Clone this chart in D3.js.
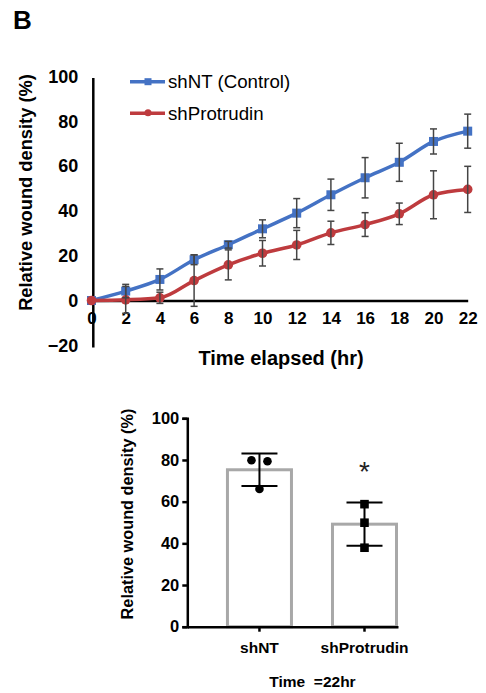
<!DOCTYPE html>
<html><head><meta charset="utf-8">
<script src="https://cdn.jsdelivr.net/npm/d3@7"></script>
<style>
html,body{margin:0;padding:0;background:#fff;}
svg{display:block;font-family:Arial,"Liberation Sans",Helvetica,sans-serif;}
</style></head>
<body>
<svg id="c" width="486" height="693"></svg>
<script>
// ---- Data (top line chart) ----
const times = [0, 2, 4, 6, 8, 10, 12, 14, 16, 18, 20, 22];
const shNT = [0, 4.2, 9.4, 18.2, 24.9, 32, 39, 47.2, 54.8, 61.7, 71, 75.6];
const shNTErr = [0, 3, 4.7, 2.2, 1.5, 4, 6.5, 7, 9, 8.5, 5.6, 7.6];
const shProtrudin = [0, 0.3, 1.2, 8.9, 15.9, 21.1, 24.8, 30.2, 33.9, 38.7, 47.2, 49.6];
const shProtrudinErr = [0, 6, 2.5, 11.5, 6.7, 5.7, 6.5, 5.2, 5.3, 4.8, 10.7, 10.3];
const yTicksTop = [-20, 0, 20, 40, 60, 80, 100];
const seriesNames = ["shNT (Control)", "shProtrudin"];

// ---- Data (bottom bar chart) ----
const barCats = ["shNT", "shProtrudin"];
const barMeans = [75.3, 49.2];
const barSD = [7.8, 10.4];
const shNTPoints = [79.9, 79.4, 66.1];
const shProtrudinPoints = [58.8, 49.9, 37.9];
const yTicksBottom = [0, 20, 40, 60, 80, 100];

const svg = d3.select("#c");
const BLUE = "#4472C4", RED = "#BE3B3E", ERR = "#454545";
const FONT = "Arial, 'Liberation Sans', sans-serif";

// Panel label
svg.append("text").attr("x", 13).attr("y", 29).attr("font-size", 26).attr("font-weight", "bold").text("B");

// ================= TOP CHART =================
const x = d3.scaleLinear().domain([0, 22]).range([91.5, 467.7]);
const y = d3.scaleLinear().domain([-20, 100]).range([345.3, 76.5]);

// x axis
const gx = svg.append("g").attr("transform", `translate(0,${y(0)})`)
  .call(d3.axisBottom(x).tickValues(times).tickSize(0).tickPadding(11).tickFormat(d3.format("d")));
gx.select(".domain").attr("stroke", "#000").attr("stroke-width", 2.5);
gx.selectAll("text").attr("font-size", 17).attr("font-weight", "bold").attr("fill", "#000").attr("font-family", FONT);

// y axis
const gy = svg.append("g").attr("transform", `translate(93.3,0)`)
  .call(d3.axisLeft(y).tickValues(yTicksTop).tickSize(0).tickPadding(15));
gy.select(".domain").attr("stroke", "#000").attr("stroke-width", 2.5)
  .attr("d", `M0,${y(-21)}V${y(99.3)}`);
gy.selectAll("text").attr("font-size", 18).attr("font-weight", "bold").attr("fill", "#000").attr("font-family", FONT);

// axis titles
svg.append("text").attr("transform", `translate(31.5,192.5) rotate(-90)`).attr("text-anchor", "middle")
  .attr("font-size", 18.3).attr("font-weight", "bold").text("Relative wound density (%)");
svg.append("text").attr("x", 281).attr("y", 365).attr("text-anchor", "middle")
  .attr("font-size", 20).attr("font-weight", "bold").text("Time elapsed (hr)");

const line = d3.line().x((d, i) => x(times[i])).y(d => y(d)).curve(d3.curveMonotoneX);
const series = [
  {vals: shNT, err: shNTErr, color: BLUE, marker: "square"},
  {vals: shProtrudin, err: shProtrudinErr, color: RED, marker: "circle"}
];

series.forEach(s => {
  svg.append("path").datum(s.vals).attr("d", line).attr("fill", "none")
    .attr("stroke", s.color).attr("stroke-width", 3.5).attr("stroke-linejoin", "round");
});
series.forEach(s => {
  const g = svg.append("g");
  s.vals.forEach((v, i) => {
    const cx = x(times[i]), cy = y(v);
    if (s.marker === "square") {
      g.append("rect").attr("x", cx - 4.5).attr("y", cy - 4.5).attr("width", 9).attr("height", 9).attr("fill", s.color);
    } else {
      g.append("circle").attr("cx", cx).attr("cy", cy).attr("r", 4.8).attr("fill", s.color);
    }
  });
});
// error bars
series.forEach(s => {
  const g = svg.append("g").attr("stroke", ERR).attr("stroke-width", 1.5);
  s.vals.forEach((v, i) => {
    const e = s.err[i];
    if (!e) return;
    const cx = x(times[i]);
    g.append("line").attr("x1", cx).attr("x2", cx).attr("y1", y(v + e)).attr("y2", y(v - e));
    g.append("line").attr("x1", cx - 3.5).attr("x2", cx + 3.5).attr("y1", y(v + e)).attr("y2", y(v + e));
    g.append("line").attr("x1", cx - 3.5).attr("x2", cx + 3.5).attr("y1", y(v - e)).attr("y2", y(v - e));
  });
});

// legend
series.forEach((s, i) => {
  const ly = 81.7 + i * 31.6;
  svg.append("line").attr("x1", 130).attr("x2", 165).attr("y1", ly).attr("y2", ly)
    .attr("stroke", s.color).attr("stroke-width", 3.5);
  if (s.marker === "square") {
    svg.append("rect").attr("x", 144.5).attr("y", ly - 3.5).attr("width", 7).attr("height", 7).attr("fill", s.color);
  } else {
    svg.append("circle").attr("cx", 148).attr("cy", ly - 0.5).attr("r", 3.5).attr("fill", s.color);
  }
  svg.append("text").attr("x", 168).attr("y", ly + 6.5).attr("font-size", 18.7).attr("fill", "#000").text(seriesNames[i]);
});

// ================= BOTTOM CHART =================
const xb = d3.scaleBand().domain(barCats).range([187.3, 398]).paddingInner(0.362).paddingOuter(0.184).align(1);
const yb = d3.scaleLinear().domain([0, 100]).range([626.7, 418.3]);

// bars
svg.append("g").selectAll("rect").data(barCats).join("rect")
  .attr("x", d => xb(d) + 1.5).attr("width", xb.bandwidth() - 3)
  .attr("y", (d, i) => yb(barMeans[i])).attr("height", (d, i) => yb(0) - yb(barMeans[i]))
  .attr("fill", "#fff").attr("stroke", "#A8A8A8").attr("stroke-width", 3);

// error bars
barCats.forEach((c, i) => {
  const cx = xb(c) + xb.bandwidth() / 2;
  const g = svg.append("g").attr("stroke", "#000").attr("stroke-width", 2);
  const top = yb(barMeans[i] + barSD[i]), bot = yb(barMeans[i] - barSD[i]);
  g.append("line").attr("x1", cx).attr("x2", cx).attr("y1", top).attr("y2", bot);
  g.append("line").attr("x1", cx - 18).attr("x2", cx + 18).attr("y1", top).attr("y2", top);
  g.append("line").attr("x1", cx - 18).attr("x2", cx + 18).attr("y1", bot).attr("y2", bot);
});

// points
const jit = [-8, 8, 0];
const c0 = xb("shNT") + xb.bandwidth() / 2;
svg.append("g").selectAll("circle").data(shNTPoints).join("circle")
  .attr("cx", (d, i) => c0 + jit[i]).attr("cy", d => yb(d)).attr("r", 4.3).attr("fill", "#000");
const c1 = xb("shProtrudin") + xb.bandwidth() / 2;
svg.append("g").selectAll("rect").data(shProtrudinPoints).join("rect")
  .attr("x", c1 - 4.3).attr("y", d => yb(d) - 4.3).attr("width", 8.6).attr("height", 8.6).attr("fill", "#000");

// asterisk
svg.append("text").attr("x", c1).attr("y", yb(barMeans[1] + barSD[1]) - 21).attr("text-anchor", "middle")
  .attr("font-size", 28).attr("fill", "#222").text("*");

// axes
const gyb = svg.append("g").attr("transform", `translate(187.3,0)`)
  .call(d3.axisLeft(yb).tickValues(yTicksBottom).tickSize(5).tickPadding(3));
gyb.selectAll("path,line").attr("stroke", "#000").attr("stroke-width", 2.5);
gyb.selectAll("text").attr("font-size", 16.5).attr("font-weight", "bold").attr("fill", "#000").attr("font-family", FONT);

const gxb = svg.append("g").attr("transform", `translate(0,${yb(0)})`)
  .call(d3.axisBottom(xb).tickSizeInner(5).tickSizeOuter(0).tickPadding(10));
gxb.selectAll("path,line").attr("stroke", "#000").attr("stroke-width", 2.5);
gxb.selectAll("text").attr("font-size", 15.5).attr("font-weight", "bold").attr("fill", "#000").attr("font-family", FONT);

svg.append("text").attr("transform", `translate(132.5,514) rotate(-90)`).attr("text-anchor", "middle")
  .attr("font-size", 16.3).attr("font-weight", "bold").text("Relative wound density (%)");
svg.append("text").attr("x", 312.5).attr("y", 687).attr("text-anchor", "middle")
  .attr("font-size", 15.5).attr("font-weight", "bold").style("white-space", "pre").text("Time  =22hr");
</script>
</body></html>
